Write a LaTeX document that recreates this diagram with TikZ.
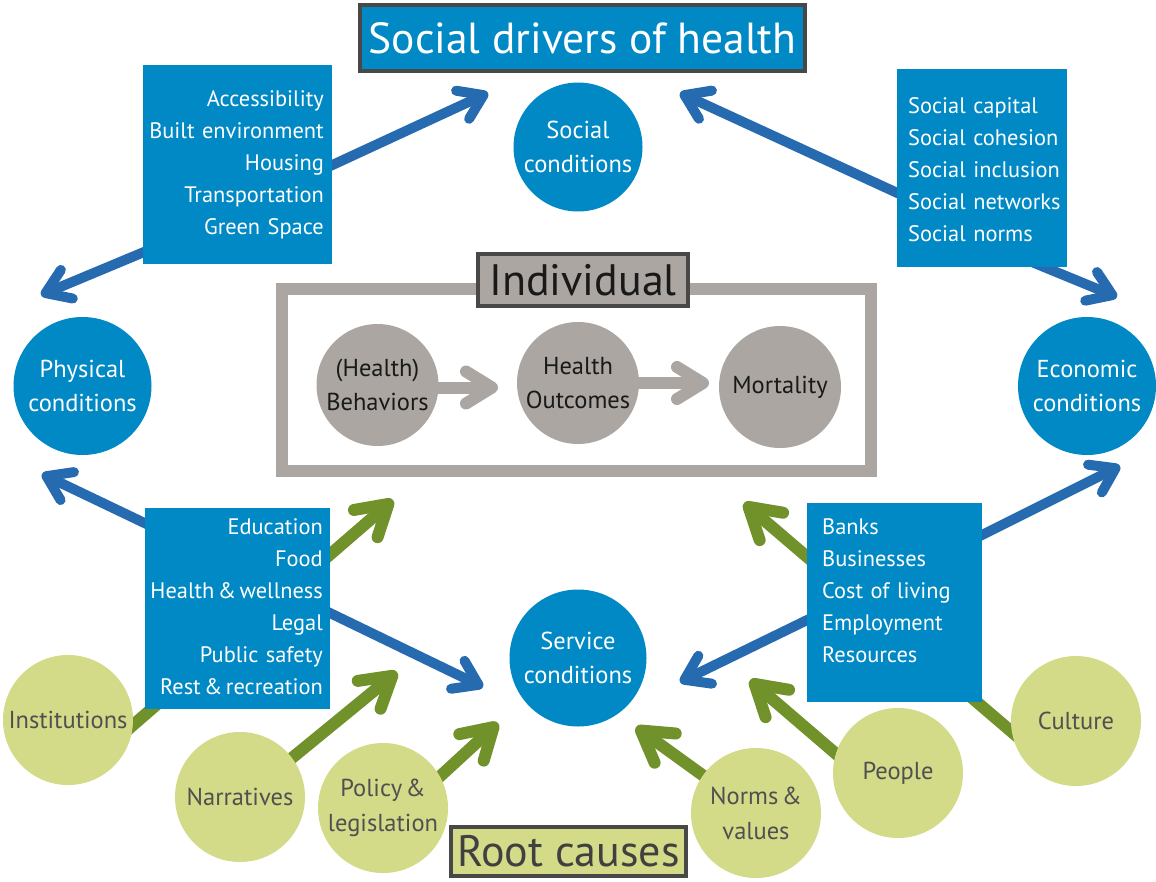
\documentclass[tikz,border=0pt]{standalone}
\usepackage{fontspec}
\setmainfont{PT Sans}
\usetikzlibrary{arrows.meta}
\pgfdeclarelayer{bg}
\pgfsetlayers{bg,main}
\definecolor{sdblue}{RGB}{0,137,196}
\definecolor{arrblue}{RGB}{38,107,176}
\definecolor{arrgreen}{RGB}{113,146,42}
\definecolor{lgreen}{RGB}{211,218,136}
\definecolor{igray}{RGB}{171,166,161}
\definecolor{dborder}{RGB}{72,72,72}
\definecolor{gtext}{RGB}{80,80,80}
\newcommand{\tsp}{\hspace{3.5pt}}
\begin{document}
\begin{tikzpicture}[x=1pt,y=-1pt,
  bcirc/.style={circle, fill=sdblue, text=white, inner sep=0pt, align=center, font=\fontsize{24.5}{34}\selectfont},
  gcirc/.style={circle, fill=igray, text=black!90, inner sep=0pt, align=center, minimum size=122pt, font=\fontsize{24.5}{34}\selectfont},
  lgcirc/.style={circle, fill=lgreen, text=gtext, inner sep=0pt, align=center, minimum size=130pt, font=\fontsize{24.5}{35}\selectfont},
  bbox/.style={rectangle, fill=sdblue, inner sep=0pt},
  listtxt/.style={text=white, inner sep=0pt, font=\fontsize{22.4}{32}\selectfont},
  labbox/.style={rectangle, draw=dborder, line width=4pt, inner sep=0pt, font=\fontsize{44}{48}\selectfont},
  barr/.style={draw=arrblue, line width=10pt, -{Straight Barb[length=23pt,width=31pt,round]}},
  garr/.style={draw=arrgreen, line width=12pt, -{Straight Barb[length=30pt,width=36pt,round]}},
  grarr/.style={draw=igray, line width=12pt, -{Straight Barb[length=26pt,width=32pt,round]}}
]
\useasboundingbox (0,0) rectangle (1156,881);

% title
\node[labbox, fill=sdblue, text=white, minimum width=445pt, minimum height=66pt, font=\fontsize{43.5}{48}\selectfont] (title) at (582.5,38) {Social drivers of health};

% blue condition circles
\node[bcirc, minimum size=129pt] (soc) at (578,147) {Social\\conditions};
\node[bcirc, minimum size=138pt] (phys) at (82.5,386) {Physical\\conditions};
\node[bcirc, minimum size=138pt] (econ) at (1087,386) {Economic\\conditions};
\node[bcirc, minimum size=137pt] (serv) at (578,658) {Service\\conditions};

% blue list boxes
\node[bbox, minimum width=189pt, minimum height=199pt] (lbox) at (237.5,164.5) {};
\node[listtxt, text width=250pt, align=right, anchor=base east] (ltxt) at (324,106)
  {Accessibility\\Built environment\\Housing\\Transportation\\Green Space};
\node[bbox, minimum width=170pt, minimum height=198pt] (rbox) at (982,168) {};
\node[listtxt, text width=200pt, align=left, anchor=base west] (rtxt) at (908,113)
  {Social capital\\Social cohesion\\Social inclusion\\Social networks\\Social norms};
\node[bbox, minimum width=185pt, minimum height=201pt] (blbox) at (237.5,608.5) {};
\node[listtxt, text width=250pt, align=right, anchor=base east] (bltxt) at (323,534)
  {Education\\Food\\Health\tsp\&\tsp wellness\\Legal\\Public safety\\Rest\tsp\&\tsp recreation};
\node[bbox, minimum width=175pt, minimum height=199pt] (brbox) at (894,602.5) {};
\node[listtxt, text width=200pt, align=left, anchor=base west] (brtxt) at (822,534)
  {Banks\\Businesses\\Cost of living\\Employment\\Resources};

% individual frame
\node[rectangle, draw=igray, line width=12pt, minimum width=589pt, minimum height=182pt, inner sep=0pt] (frame) at (576.5,380) {};
\node[labbox, fill=igray, text=black!90, minimum width=210pt, minimum height=52pt] (indiv) at (583,280) {Individual};
\node[gcirc] (beh) at (377.5,385) {(Health)\\Behaviors};
\node[gcirc] (out) at (578,383) {Health\\Outcomes};
\node[gcirc] (mort) at (780,387) {Mortality};

% root causes
\node[lgcirc] (inst) at (68,720) {Institutions};
\node[lgcirc] (narr) at (240,797) {Narratives};
\node[lgcirc] (pol) at (383,808) {Policy\tsp\&\\legislation};
\node[lgcirc] (norms) at (756,813) {Norms\tsp\&\\values};
\node[lgcirc] (people) at (898,773) {People};
\node[lgcirc] (cult) at (1076,721) {Culture};
\node[labbox, fill=lgreen, text=black!75, minimum width=235pt, minimum height=49pt] (root) at (568.5,851.5) {Root causes};

% connector end points
\coordinate (s1) at (300,180);  \coordinate (t1) at (488,93);
\coordinate (s2) at (180,237);  \coordinate (t2) at (41,295);
\coordinate (s3) at (930,208);  \coordinate (t3) at (680,93);
\coordinate (s4) at (1010,253); \coordinate (t4) at (1117,297);
\coordinate (s5) at (180,540);  \coordinate (t5) at (42,474);
\coordinate (s6) at (300,598.5);\coordinate (t6) at (483,687);
\coordinate (s7) at (840,604);  \coordinate (t7) at (680,682);
\coordinate (s8) at (950,551);  \coordinate (t8) at (1120,466);
\coordinate (s9) at (110,745);  \coordinate (t9) at (393,500);
\coordinate (s10) at (270,776); \coordinate (t10) at (397,672);
\coordinate (s11) at (410,804); \coordinate (t11) at (498,723);
\coordinate (s12) at (730,795); \coordinate (t12) at (636,727);
\coordinate (s13) at (870,783); \coordinate (t13) at (750,680);
\coordinate (s14) at (1040,756);\coordinate (t14) at (744,503);
\coordinate (s15) at (432,387.5); \coordinate (t15) at (498,387.5);
\coordinate (s16) at (634,383); \coordinate (t16) at (709,383);

\begin{pgfonlayer}{bg}
\draw[barr] (s1) -- (t1);
\draw[barr] (s2) -- (t2);
\draw[barr] (s3) -- (t3);
\draw[barr] (s4) -- (t4);
\draw[barr] (s5) -- (t5);
\draw[barr] (s6) -- (t6);
\draw[barr] (s7) -- (t7);
\draw[barr] (s8) -- (t8);
\draw[garr] (s9) -- (t9);
\draw[garr] (s10) -- (t10);
\draw[garr] (s11) -- (t11);
\draw[garr] (s12) -- (t12);
\draw[garr] (s13) -- (t13);
\draw[garr] (s14) -- (t14);
\draw[grarr] (s15) -- (t15);
\draw[grarr] (s16) -- (t16);
\end{pgfonlayer}
\end{tikzpicture}
\end{document}
